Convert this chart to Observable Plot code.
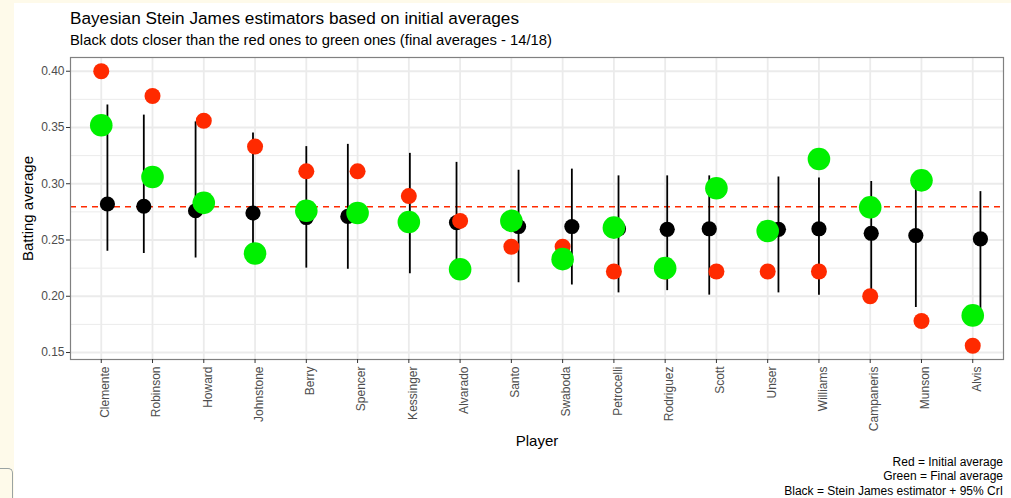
<!DOCTYPE html>
<html><head><meta charset="utf-8">
<script src="https://cdn.jsdelivr.net/npm/d3@7"></script>
<script src="https://cdn.jsdelivr.net/npm/@observablehq/plot@0.6"></script>
<style>
html,body{margin:0;padding:0;background:#fefaea;width:1011px;height:498px;overflow:hidden;font-family:"Liberation Sans",Arial,sans-serif;}
#page{position:absolute;left:14px;top:3px;width:997px;height:495px;background:#fff;}
#title{position:absolute;left:56px;top:5px;font-size:17.2px;color:#000;white-space:nowrap;}
#subtitle{position:absolute;left:56px;top:29px;font-size:14.8px;color:#000;white-space:nowrap;}
#chart{position:absolute;left:0;top:47px;}
#caption{position:absolute;right:8px;top:452px;font-size:12px;text-align:right;line-height:14.3px;color:#000;}
#tab{position:absolute;left:-2px;top:468px;width:14px;height:40px;border-top:1px solid #9aa3a3;border-right:1px solid #9aa3a3;border-radius:0 5px 0 0;}
</style>
</head><body>
<div id="tab"></div>
<div id="page">
  <div id="title">Bayesian Stein James estimators based on initial averages</div>
  <div id="subtitle">Black dots closer than the red ones to green ones (final averages - 14/18)</div>
  <div id="chart"></div>
  <div id="caption">Red = Initial average<br>Green = Final average<br>Black = Stein James estimator + 95% CrI</div>
</div>
<script>
const players = ["Clemente","Robinson","Howard","Johnstone","Berry","Spencer","Kessinger","Alvarado","Santo","Swaboda","Petrocelli","Rodriguez","Scott","Unser","Williams","Campaneris","Munson","Alvis"];
const initialAvg = [0.400,0.378,0.356,0.333,0.311,0.311,0.289,0.267,0.244,0.244,0.222,0.222,0.222,0.222,0.222,0.200,0.178,0.156];
const finalAvg   = [0.352,0.306,0.283,0.238,0.276,0.274,0.266,0.224,0.267,0.233,0.261,0.225,0.296,0.258,0.322,0.279,0.303,0.183];
const steinJames = [0.282,0.280,0.276,0.274,0.270,0.271,0.268,0.2655,0.262,0.262,0.260,0.2595,0.260,0.2595,0.260,0.256,0.254,0.251];
const lowerCrI   = [0.240,0.238,0.234,0.232,0.225,0.224,0.220,0.218,0.212,0.210,0.203,0.205,0.201,0.203,0.201,0.199,0.190,0.187];
const upperCrI   = [0.370,0.361,0.355,0.345,0.333,0.335,0.327,0.319,0.312,0.313,0.307,0.307,0.307,0.306,0.305,0.302,0.300,0.293];
const jitter     = [0.12,-0.17,-0.16,-0.04,0.0,-0.19,0.02,-0.07,0.14,0.18,0.09,0.04,-0.14,0.21,0.0,0.02,-0.11,0.15];
const grandMean = 0.2795;
const yTicks = [0.15,0.20,0.25,0.30,0.35,0.40];
const yMinorTicks = [0.175,0.225,0.275,0.325,0.375];

const rows = players.map((p,i)=>({i, p, init: initialAvg[i], fin: finalAvg[i], sj: steinJames[i], lo: lowerCrI[i], hi: upperCrI[i], xj: i + jitter[i]}));
const idx = d3.range(players.length);

const chart = Plot.plot({
  width: 997, height: 402,
  marginTop: 7, marginBottom: 93, marginLeft: 56, marginRight: 8,
  style: {fontFamily: "Liberation Sans, Arial, sans-serif", fontSize: "12px", background: "transparent", overflow: "visible"},
  x: {domain: [-0.6, players.length - 0.4], axis: null},
  y: {domain: [0.1438, 0.4122], axis: null},
  marks: [
    Plot.gridY(yMinorTicks, {stroke: "#ebebeb", strokeOpacity: 1, strokeWidth: 1}),
    Plot.gridY(yTicks, {stroke: "#ebebeb", strokeOpacity: 1, strokeWidth: 1.8}),
    Plot.gridX(idx, {stroke: "#ebebeb", strokeOpacity: 1, strokeWidth: 1.8}),
    Plot.ruleY([grandMean], {stroke: "#ff2a00", strokeDasharray: "6,5", strokeWidth: 1.4}),
    Plot.ruleX(rows, {x: "xj", y1: "lo", y2: "hi", stroke: "black", strokeWidth: 1.8}),
    Plot.dot(rows, {x: "xj", y: "sj", r: 7.6, fill: "black"}),
    Plot.dot(rows, {x: "i", y: "init", r: 8, fill: "#ff2a00"}),
    Plot.dot(rows, {x: "i", y: "fin", r: 11.3, fill: "#00f000"}),
    Plot.frame({stroke: "#808080", strokeWidth: 1.2}),
    Plot.axisY({ticks: yTicks, tickFormat: d3.format(".2f"), tickSize: 4, tickPadding: 2, label: null, stroke: "#333", fill: "#4d4d4d", fontSize: 12}),
    Plot.axisX({ticks: idx, tickFormat: () => "", tickSize: 4, label: null, stroke: "#333"}),
    Plot.axisX({ticks: idx, tickFormat: i => players[i], tickRotate: -90, tickSize: 0, tickPadding: 7, dx: 4, label: null, fill: "#4d4d4d", fontSize: 12}),
    Plot.text(["Player"], {frameAnchor: "bottom", dy: 86, fontSize: 15, fill: "black"}),
    Plot.text(["Batting average"], {frameAnchor: "left", textAnchor: "middle", rotate: -90, dx: -42, fontSize: 15, fill: "black"})
  ]
});
document.getElementById("chart").appendChild(chart);
</script>
</body></html>
